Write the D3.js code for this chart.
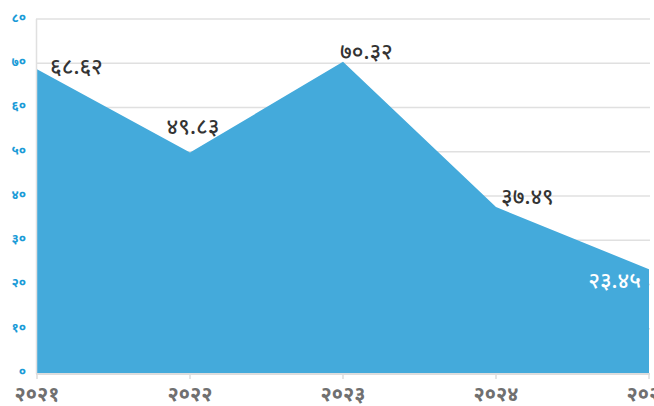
<!DOCTYPE html>
<html><head><meta charset="utf-8">
<script src="https://cdn.jsdelivr.net/npm/d3@7"></script>
<style>body{margin:0;background:#fff}svg{display:block}</style>
</head><body><svg id="c" width="654" height="406"></svg>
<script>
const years = [2021, 2022, 2023, 2024, 2025];
const values = [68.62, 49.83, 70.32, 37.49, 23.45];
const yTicks = [0, 10, 20, 30, 40, 50, 60, 70, 80];
// label placement (dx, dy, anchor, colour)
const labelLayout = [
  {dx: 13, dy: -3, anchor: "start", fill: "#333"},
  {dx: 3, dy: -26, anchor: "middle", fill: "#333"},
  {dx: -3, dy: -11, anchor: "start", fill: "#333"},
  {dx: 5, dy: -11, anchor: "start", fill: "#333"},
  {dx: -8, dy: 11, anchor: "end", fill: "#fff"}
];
const digits = "०१२३४५६७८९";
const toDeva = s => String(s).replace(/[0-9]/g, d => digits[+d]);

const svg = d3.select("#c");
const m = {l: 37, r: 5, t: 19, b: 33};
const W = 654, H = 406;
const x = d3.scalePoint().domain(years).range([m.l, W - m.r]);
const y = d3.scaleLinear().domain([0, 80]).range([H - m.b, m.t]);

// grid
svg.append("g").selectAll("line").data(yTicks.filter(t => t > 0)).join("line")
  .attr("x1", m.l - 1).attr("x2", W - m.r + 1)
  .attr("y1", d => y(d)).attr("y2", d => y(d))
  .attr("stroke", "#e0e0e0").attr("stroke-width", 1.5);

// area
const area = d3.area().x((d, i) => x(years[i])).y0(y(0)).y1(d => y(d));
svg.append("path").datum(values).attr("d", area).attr("fill", "#44aadb");

// y axis line
svg.append("line").attr("x1", m.l - 0.5).attr("x2", m.l - 0.5)
  .attr("y1", m.t).attr("y2", y(0) + 1).attr("stroke", "#e0e0e0").attr("stroke-width", 1.5);

// x axis
svg.append("line").attr("x1", m.l - 1).attr("x2", W - m.r + 1)
  .attr("y1", y(0) + 1).attr("y2", y(0) + 1).attr("stroke", "#ddd").attr("stroke-width", 2);
svg.append("g").selectAll("line").data(years).join("line")
  .attr("x1", d => x(d)).attr("x2", d => x(d))
  .attr("y1", y(0) + 1).attr("y2", y(0) + 6).attr("stroke", "#ddd").attr("stroke-width", 1.5);

svg.append("g").selectAll("text").data(years).join("text")
  .attr("x", d => x(d)).attr("y", H - 5)
  .attr("text-anchor", "middle").attr("fill", "#707070")
  .attr("font-family", "Noto Sans, sans-serif").attr("font-size", 20).attr("font-weight", "bold")
  .text(d => toDeva(d));

// y labels
svg.append("g").selectAll("text").data(yTicks).join("text")
  .attr("x", 26).attr("y", d => y(d) - 1).attr("dy", "0.3em")
  .attr("text-anchor", "end").attr("fill", "#1a9bd7")
  .attr("font-family", "Noto Sans, sans-serif").attr("font-size", 13).attr("font-weight", "bold")
  .text(d => toDeva(d));

// data labels
svg.append("g").selectAll("text").data(values).join("text")
  .attr("x", (d, i) => x(years[i]) + labelLayout[i].dx)
  .attr("y", (d, i) => y(d) + labelLayout[i].dy)
  .attr("dy", "0.35em")
  .attr("text-anchor", (d, i) => labelLayout[i].anchor)
  .attr("fill", (d, i) => labelLayout[i].fill)
  .attr("font-family", "Noto Sans, sans-serif").attr("font-size", 22).attr("font-weight", 500)
  .text(d => toDeva(d.toFixed(2)));
</script></body></html>
